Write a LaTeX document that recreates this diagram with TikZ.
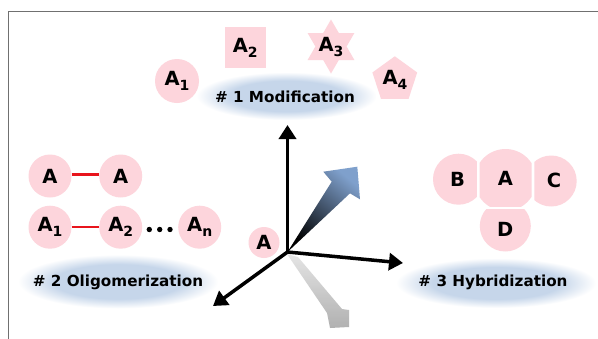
\documentclass[tikz,border=0pt]{standalone}
\usepackage{fontspec}
\setmainfont{DejaVu Sans}
\usetikzlibrary{arrows.meta}
\definecolor{pinkc}{HTML}{FDD5DC}
\definecolor{ellc}{HTML}{C6D6EA}
\definecolor{arrblue}{HTML}{7FA0CC}
\definecolor{redc}{HTML}{E8141C}
\definecolor{framec}{HTML}{707070}
\pgfdeclareradialshading{blurell}{\pgfpoint{0bp}{0bp}}{color(0bp)=(ellc); color(16bp)=(ellc); color(25bp)=(white); color(50bp)=(white)}
\newcommand{\molfont}{\bfseries\fontsize{19.5}{19.5}\selectfont}
\newcommand{\lblfont}{\bfseries\fontsize{15.2}{15.2}\selectfont}
\newcommand{\ssub}[1]{\raisebox{-5pt}{\fontsize{14}{14}\selectfont #1}}
\begin{document}
\begin{tikzpicture}[x=1pt,y=-1pt,
  mol/.style={circle, fill=pinkc, inner sep=0pt, minimum size=#1, font=\molfont},
  mol/.default=43pt,
  molt/.style={inner sep=0pt, font=\molfont},
  lbl/.style={inner sep=0pt, font=\lblfont},
  axisarrow/.style={line width=3.5pt, -{Triangle[length=14pt,width=17pt]}},
  bond/.style={redc, line width=2.4pt},
  pinkfill/.style={fill=pinkc}]
\useasboundingbox (0,0) rectangle (598,338);
\fill[white] (0,0) rectangle (598,338);
% frame
\draw[framec, line width=1pt] (8.4,339) -- (8.4,11.2) -- (599,11.2);

% label ellipses
\shade[shading=blurell] (286.5,96) ellipse [x radius=90, y radius=24];
\shade[shading=blurell] (118,281.5) ellipse [x radius=100, y radius=27];
\shade[shading=blurell] (496,283) ellipse [x radius=100, y radius=25];

% #1 modification
\node[mol=44pt] (a1) at (177,81) {A\ssub{1}};
\node[rectangle, fill=pinkc, minimum width=40.5pt, minimum height=41pt, inner sep=0pt, font=\molfont] (a2) at (245.3,47.8) {A\ssub{2}};
\fill[pinkc] (331,19.5) -- (338.8,33) -- (354.4,33) -- (346.6,46.5) -- (354.4,60) -- (338.8,60)
  -- (331,73.5) -- (323.2,60) -- (307.6,60) -- (315.4,46.5) -- (307.6,33) -- (323.2,33) -- cycle;
\node[molt] (a3) at (331,46.5) {A\ssub{3}};
\fill[pinkc] (394.8,56.3) -- (417.2,72.5) -- (408.6,98.8) -- (381,98.8) -- (372.4,72.5) -- cycle;
\node[molt] (a4) at (395,80) {A\ssub{4}};
\node[lbl] (modl) at (285,97) {\# 1 Modification};

% #2 oligomerization
\node[mol] (o1) at (50,176) {A};
\node[mol] (o2) at (120.7,176) {A};
\node[mol] (o3) at (50,227.2) {A\ssub{1}};
\node[mol] (o4) at (120.7,227.2) {A\ssub{2}};
\node[mol] (o5) at (199.7,227.2) {A\ssub{n}};
\draw[bond] ([yshift=1.5pt]o1.east) -- ([yshift=1.5pt]o2.west);
\draw[bond] (o3) -- (o4);
\fill (149.3,229.5) circle (2.7) (159.7,229.5) circle (2.7) (170,229.5) circle (2.7);
\node[lbl] (olil) at (118,282) {\# 2 Oligomerization};

% #3 hybridization
\begin{scope}
  \clip (479.6,140) rectangle (531.6,206.8);
  \fill[pinkc] (505.5,180) circle (31);
\end{scope}
\begin{scope}
  \clip (420,140) rectangle (476.8,215);
  \fill[pinkc] (458.5,179.2) circle (25.5);
\end{scope}
\begin{scope}
  \clip (534.3,140) rectangle (590,215);
  \fill[pinkc] (551.2,181) circle (25.5);
\end{scope}
\begin{scope}
  \clip (470,209.3) rectangle (540,260);
  \fill[pinkc] (505.3,226) circle (25.5);
\end{scope}
\node[molt] (hB) at (457.5,179) {B};
\node[molt] (hA) at (505.5,178) {A};
\node[molt] (hC) at (554,180) {C};
\node[molt] (hD) at (505.3,229) {D};
\node[lbl] (hybl) at (493,282) {\# 3 Hybridization};

% central molecule
\node[mol=31pt] (cA) at (264,242.5) {A};

% axes
\coordinate (O) at (287.5,252);
\coordinate (up) at (287.5,125);
\coordinate (rt) at (403,263);
\coordinate (ll) at (213,306);

% shadow arrow
\shade[top color=black!12, bottom color=black!36, opacity=0.85]
  (287,254) -- (298,257) -- (342,309) -- (349,310) -- (349,327) -- (330,328) -- (327,313) -- cycle;
% blue 3D arrow
\shade[top color=arrblue, bottom color=black, shading angle=-40]
  (O) -- (331.7,181.7) -- (323.3,171.7) -- (357.3,166.7) -- (360,199.3) -- (350,193.3) -- cycle;

\draw[axisarrow] (O) -- (up);
\draw[axisarrow] (O) -- (rt);
\draw[axisarrow] (O) -- (ll);
\end{tikzpicture}
\end{document}
